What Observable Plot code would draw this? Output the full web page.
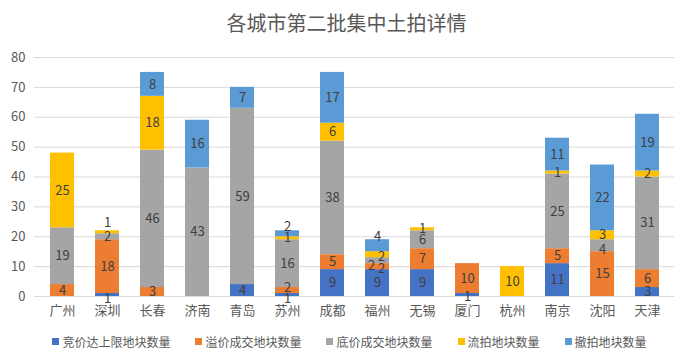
<!DOCTYPE html>
<html><head><meta charset="utf-8">
<script src="https://cdn.jsdelivr.net/npm/d3@7"></script>
<script src="https://cdn.jsdelivr.net/npm/@observablehq/plot@0.6"></script>
<style>
body{margin:0;background:#fff;font-family:"Noto Sans CJK SC","Noto Sans",sans-serif;}
#wrap{width:693px;height:357px;overflow:hidden;}
#title{height:45px;line-height:46px;text-align:center;font-size:20px;color:#595959;}
#legend{height:22px;display:flex;justify-content:center;align-items:center;gap:25px;font-size:12px;color:#595959;padding-left:6px;}
#legend .it{display:flex;align-items:center;}
#legend .sw{width:7px;height:7px;margin-right:3px;display:inline-block;}
</style></head>
<body><div id="wrap"><div id="title">各城市第二批集中土拍详情</div><div id="chart"></div><div id="legend"></div></div>
<script>
const cities = ["广州","深圳","长春","济南","青岛","苏州","成都","福州","无锡","厦门","杭州","南京","沈阳","天津"];
const seriesNames = ["竞价达上限地块数量","溢价成交地块数量","底价成交地块数量","流拍地块数量","撤拍地块数量"];
const colors = ["#4472C4","#ED7D31","#A5A5A5","#FFC000","#5B9BD5"];
const bidCap    = [0, 1, 0, 0, 4, 1, 9, 9, 9, 1, 0, 11, 0, 3];
const premium   = [4, 18, 3, 0, 0, 2, 5, 2, 7, 10, 0, 5, 15, 6];
const floorDeal = [19, 2, 46, 43, 59, 16, 38, 2, 6, 0, 0, 25, 4, 31];
const unsold    = [25, 1, 18, 0, 0, 1, 6, 2, 1, 0, 10, 1, 3, 2];
const withdrawn = [0, 0, 8, 16, 7, 2, 17, 4, 0, 0, 0, 11, 22, 19];
const yTicks = [0,10,20,30,40,50,60,70,80];

// label nudges (pixels) for crowded labels, like the original's label layout
const labelNudge = {
  "深圳|0": [0, 4], "深圳|3": [0, -9],
  "苏州|0": [0, 4], "苏州|1": [0, -3], "苏州|4": [0, -7],
  "福州|1": [-6, -1], "福州|2": [4, 8], "福州|3": [4, 2], "福州|4": [0, -9],
  "厦门|0": [0, 2], "沈阳|2": [0, 4]
};

const seriesValues = [bidCap, premium, floorDeal, unsold, withdrawn];
const data = [];
const base = cities.map(() => 0);
seriesValues.forEach((vals, si) => {
  vals.forEach((v, ci) => {
    if (v > 0) data.push({city: cities[ci], series: seriesNames[si], si, value: v, mid: base[ci] + v / 2});
    base[ci] += v;
  });
});
const nudgeOf = d => labelNudge[d.city + "|" + d.si] || [0, 0];
const nudgeKeys = Array.from(new Set(data.map(d => nudgeOf(d).join(","))));

const labelMarks = nudgeKeys.map(k => {
  const [dx, dy] = k.split(",").map(Number);
  return Plot.text(data.filter(d => nudgeOf(d).join(",") === k), {
    x: "city", y: "mid", text: d => String(d.value),
    fill: "#404040", fontSize: 13, dx, dy
  });
});

const chart = Plot.plot({
  width: 693,
  height: 285,
  marginTop: 12,
  marginBottom: 34,
  marginLeft: 34,
  marginRight: 19,
  style: {fontFamily: '"Noto Sans CJK SC","Noto Sans",sans-serif', fontSize: "13px", color: "#595959", background: "#fff"},
  x: {domain: cities, paddingInner: 0.475, paddingOuter: 0.2375, label: null, tickSize: 0, tickPadding: 9},
  y: {domain: [0, 80], ticks: yTicks, label: null, tickSize: 0, tickPadding: 9, grid: false},
  color: {domain: seriesNames, range: colors},
  marks: [
    Plot.ruleY(yTicks, {stroke: "#D9D9D9", strokeWidth: 1}),
    Plot.barY(data, {x: "city", y: "value", z: "series", fill: "series"}),
    ...labelMarks
  ]
});
document.getElementById("chart").appendChild(chart);

const lg = document.getElementById("legend");
seriesNames.forEach((n, i) => {
  const it = document.createElement("span"); it.className = "it";
  const sw = document.createElement("span"); sw.className = "sw"; sw.style.background = colors[i];
  it.appendChild(sw); it.appendChild(document.createTextNode(n));
  lg.appendChild(it);
});
</script></body></html>
